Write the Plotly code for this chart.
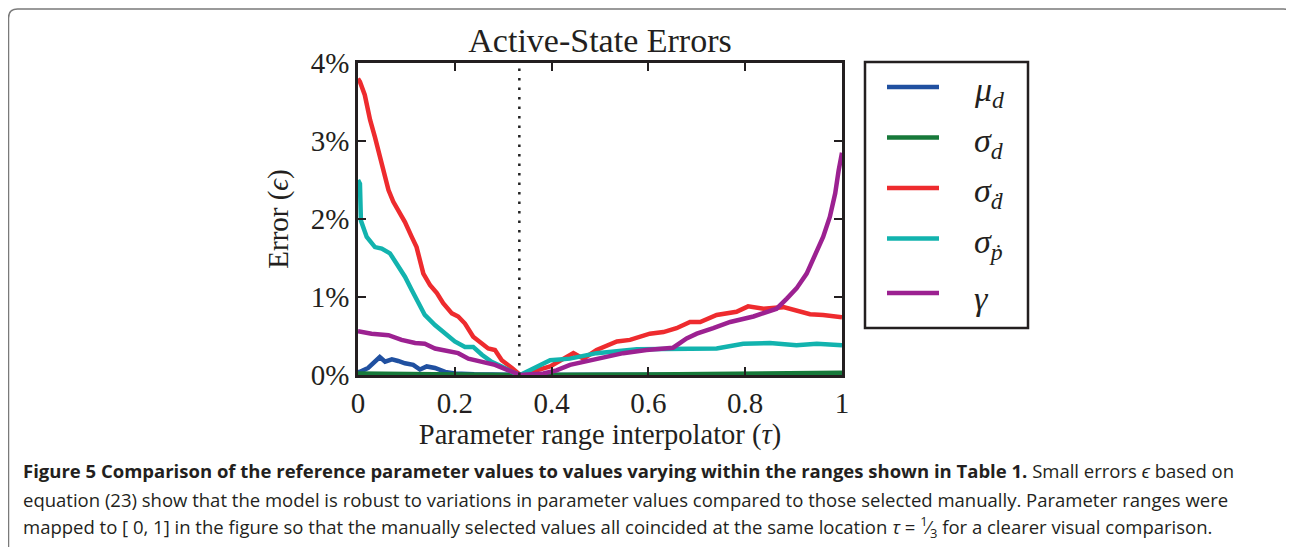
import plotly.graph_objects as go

# --- data (error in %) ---
REF_TAU = 1 / 3

mu_d_tau = [0.0, 0.004, 0.021, 0.035, 0.045, 0.056, 0.07, 0.083, 0.097, 0.114, 0.128, 0.142, 0.159,
            0.18, 0.2, 0.24, 0.3, 0.335, 0.5, 0.7, 0.9, 1.0]
mu_d_err = [0.04, 0.04, 0.09, 0.17, 0.23, 0.17, 0.2, 0.18, 0.15, 0.13, 0.07, 0.11, 0.09,
            0.04, 0.02, 0.01, 0.004, 0.0, 0.003, 0.003, 0.004, 0.004]

sigma_d_tau = [0.0, 0.15, 0.335, 0.6, 0.8, 0.9, 1.0]
sigma_d_err = [0.02, 0.01, 0.0, 0.005, 0.012, 0.02, 0.03]

sigma_dd_tau = [0.0, 0.004, 0.014, 0.025, 0.035, 0.045, 0.056, 0.063, 0.073, 0.083, 0.097, 0.111, 0.121,
                0.128, 0.135, 0.149, 0.163, 0.176, 0.194, 0.207, 0.221, 0.238, 0.256, 0.269, 0.283,
                0.297, 0.318, 0.335, 0.369, 0.397, 0.445, 0.466, 0.493, 0.535, 0.562, 0.603, 0.631,
                0.658, 0.686, 0.707, 0.741, 0.782, 0.806, 0.838, 0.879, 0.906, 0.934, 0.961, 1.0]
sigma_dd_err = [3.8, 3.76, 3.59, 3.27, 3.05, 2.8, 2.58, 2.37, 2.22, 2.11, 1.96, 1.77, 1.64,
                1.47, 1.3, 1.15, 1.05, 0.92, 0.79, 0.75, 0.66, 0.49, 0.41, 0.34, 0.32,
                0.19, 0.09, 0.0, 0.06, 0.11, 0.28, 0.21, 0.32, 0.43, 0.45, 0.53, 0.55,
                0.6, 0.68, 0.68, 0.77, 0.81, 0.88, 0.85, 0.87, 0.83, 0.78, 0.77, 0.74]

sigma_pd_tau = [0.0, 0.004, 0.006, 0.018, 0.035, 0.049, 0.066, 0.08, 0.097, 0.111, 0.125, 0.138, 0.159,
                0.18, 0.2, 0.221, 0.238, 0.256, 0.276, 0.297, 0.318, 0.335, 0.369, 0.397, 0.438,
                0.493, 0.576, 0.665, 0.741, 0.796, 0.851, 0.906, 0.948, 1.0]
sigma_pd_err = [2.5, 2.45, 1.98, 1.77, 1.64, 1.62, 1.56, 1.43, 1.26, 1.09, 0.92, 0.77, 0.64,
                0.53, 0.43, 0.36, 0.36, 0.26, 0.17, 0.11, 0.04, 0.0, 0.11, 0.19, 0.21,
                0.28, 0.33, 0.34, 0.34, 0.4, 0.41, 0.38, 0.4, 0.38]

gamma_tau = [0.0, 0.028, 0.063, 0.09, 0.118, 0.138, 0.159, 0.187, 0.207, 0.228, 0.256, 0.283, 0.311,
             0.335, 0.383, 0.41, 0.438, 0.493, 0.548, 0.596, 0.651, 0.679, 0.7, 0.734, 0.769, 0.817,
             0.865, 0.886, 0.906, 0.927, 0.944, 0.961, 0.975, 0.986, 0.993, 1.0]
gamma_err = [0.56, 0.53, 0.51, 0.45, 0.41, 0.4, 0.34, 0.3, 0.28, 0.21, 0.17, 0.13, 0.06,
             0.0, 0.02, 0.06, 0.13, 0.21, 0.28, 0.32, 0.35, 0.47, 0.53, 0.6, 0.68, 0.75,
             0.85, 0.98, 1.11, 1.3, 1.54, 1.77, 2.03, 2.33, 2.62, 2.85]

series_names = ["<i>μ</i><sub><i>d</i></sub>", "<i>σ</i><sub><i>d</i></sub>", "<i>σ</i><sub><i>ḋ</i></sub>",
                "<i>σ</i><sub><i>ṗ</i></sub>", "<i>γ</i>"]
series_colors = ["#2050a0", "#17793a", "#ee2b2e", "#12b3ae", "#9c2191"]
series_x = [mu_d_tau, sigma_d_tau, sigma_dd_tau, sigma_pd_tau, gamma_tau]
series_y = [mu_d_err, sigma_d_err, sigma_dd_err, sigma_pd_err, gamma_err]

y_ticks = [0, 1, 2, 3, 4]
y_tick_labels = ["0%", "1%", "2%", "3%", "4%"]
x_ticks = [0, 0.2, 0.4, 0.6, 0.8, 1]
x_tick_labels = ["0", "0.2", "0.4", "0.6", "0.8", "1"]

# the page body adds an 8px margin, so the figure is 8px smaller than the window
OFF = 8
W, H = 1294 - OFF, 547 - OFF
PLOT_X0, PLOT_X1, PLOT_Y0, PLOT_Y1 = 358, 842, 63, 375  # page pixels
L, R = PLOT_X0 - OFF, W - (PLOT_X1 - OFF)
T, B = PLOT_Y0 - OFF, H - (PLOT_Y1 - OFF)
SERIF = "Liberation Serif, Times New Roman, serif"
INK = "#231f20"


def px_x(px):
    return (px - OFF - L) / (W - L - R)


def px_y(py):
    return 1 - (py - OFF - T) / (H - T - B)


fig = go.Figure()
for name, color, xs, ys in zip(series_names, series_colors, series_x, series_y):
    fig.add_trace(go.Scatter(x=xs, y=ys, name=name, mode="lines",
                             line=dict(color=color, width=4.5), showlegend=False))

# reference location tau = 1/3
fig.add_trace(go.Scatter(x=[REF_TAU, REF_TAU], y=[y_ticks[0], y_ticks[-1]], mode="lines",
                         line=dict(color="#222", width=2.5, dash="2.5px,7px"), showlegend=False,
                         hoverinfo="skip"))

axis_common = dict(showline=True, linecolor=INK, linewidth=2.5, mirror="ticks", ticks="inside",
                   ticklen=8, tickwidth=1.5, tickcolor=INK, showgrid=False, zeroline=False,
                   tickfont=dict(family=SERIF, size=29, color=INK), automargin=False)

fig.update_layout(
    width=W, height=H,
    margin=dict(l=L, r=R, t=T, b=B),
    paper_bgcolor="white", plot_bgcolor="white",
    title=dict(text="Active-State Errors", x=px_x(600) * (W - L - R) / W + L / W, xanchor="center",
               y=1 - (40 - OFF) / H, yanchor="middle", font=dict(family=SERIF, size=34, color=INK)),
    xaxis=dict(range=[0, 1], tickvals=x_ticks, ticktext=x_tick_labels,
               title=dict(text="Parameter range interpolator (<i>τ</i>)", standoff=6,
                          font=dict(family=SERIF, size=28.5, color=INK)), **axis_common),
    yaxis=dict(range=[0, 4], tickvals=y_ticks, ticktext=y_tick_labels,
               title=dict(text="Error (<i>ϵ</i>)", standoff=14,
                          font=dict(family=SERIF, size=29, color=INK)), **axis_common),
    showlegend=False,
)

shapes = []
annotations = []

# outer rounded frame
fx0, fx1, fy0, fy1, rad = 8.5, 1292.5, 9, 580, 9
frame_path = (f"M {px_x(fx0)},{px_y(fy1)} L {px_x(fx0)},{px_y(fy0 + rad)} "
              f"Q {px_x(fx0)},{px_y(fy0)} {px_x(fx0 + rad)},{px_y(fy0)} "
              f"L {px_x(fx1 - rad)},{px_y(fy0)} Q {px_x(fx1)},{px_y(fy0)} {px_x(fx1)},{px_y(fy0 + rad)} "
              f"L {px_x(fx1)},{px_y(fy1)}")
shapes.append(dict(type="path", xref="paper", yref="paper", path=frame_path,
                   line=dict(color="#7a7a7a", width=1.5)))

# legend box
shapes.append(dict(type="rect", xref="paper", yref="paper", x0=px_x(865), x1=px_x(1028),
                   y0=px_y(328), y1=px_y(62), line=dict(color=INK, width=2.5), fillcolor="white"))
legend_rows = [87, 137.5, 188, 238.5, 293]
for name, color, ry in zip(series_names, series_colors, legend_rows):
    shapes.append(dict(type="line", xref="paper", yref="paper", x0=px_x(887), x1=px_x(939),
                       y0=px_y(ry), y1=px_y(ry), line=dict(color=color, width=4.5)))
    annotations.append(dict(xref="paper", yref="paper", x=px_x(972), y=px_y(ry + 5), text=name,
                            showarrow=False, xanchor="left", yanchor="middle",
                            font=dict(family=SERIF, size=34, color=INK)))

# caption
CAP = "Open Sans, sans-serif"
caption_lines = [
    "<b>Figure 5 Comparison of the reference parameter values to values varying within the ranges shown in Table 1.</b>"
    " Small errors <i>ϵ</i> based on",
    "equation (23) show that the model is robust to variations in parameter values compared to those selected manually. "
    "Parameter ranges were",
    "mapped to [ 0, 1] in the figure so that the manually selected values all coincided at the same location "
    "<i>τ</i> = <sup>1</sup>⁄<sub>3</sub> for a clearer visual comparison.",
]
for line, cy in zip(caption_lines, [470, 499, 527]):
    annotations.append(dict(xref="paper", yref="paper", x=px_x(21), y=px_y(cy), text=line,
                            showarrow=False, xanchor="left", yanchor="middle",
                            font=dict(family=CAP, size=18.5, color=INK)))

fig.update_layout(shapes=shapes, annotations=annotations)
fig.write_html("out.html")
